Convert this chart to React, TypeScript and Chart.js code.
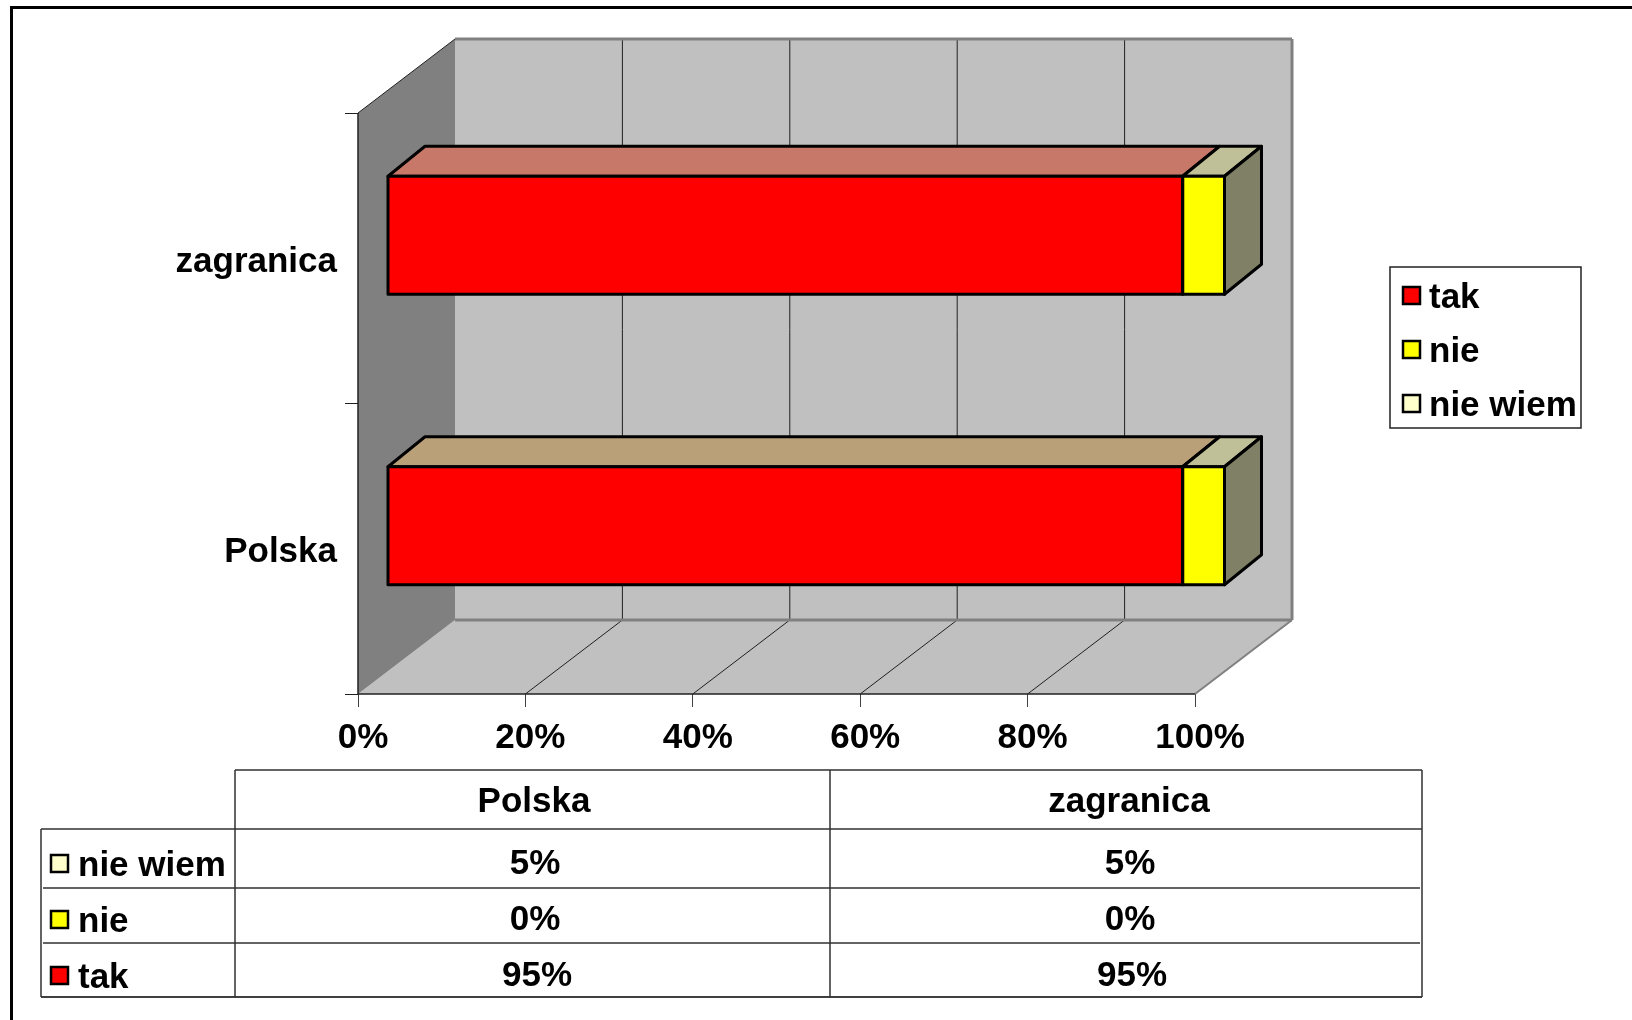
import React, { useEffect, useRef } from "react";
import { Chart, registerables } from "chart.js";

Chart.register(...registerables);

const categories = ["Polska", "zagranica"];
const seriesNames = ["tak", "nie", "nie wiem"];
const takValues = [95, 95];
const nieValues = [0, 0];
const nieWiemValues = [5, 5];
const xTicks = [0, 20, 40, 60, 80, 100];

const FONT = "bold 35px 'Liberation Sans', Arial, sans-serif";
const depthFull = { x: 97, y: -74 };
const barShift = { x: 29.5, y: -23 };
const barDepth = { x: 37, y: -30 };

const legendSwatches = ["#FF0000", "#FFFF00", "#FFFFCC"];
const frontColors = ["#FF0000", "#FFFF00", "#FFFF00"];
const topColors = [
  ["#B9A078", "#C87868"],
  ["#C0C098", "#C0C098"],
  ["#C0C098", "#C0C098"],
];
const sideColor = "#808066";

function poly(ctx: CanvasRenderingContext2D, pts: number[][], fill?: string, stroke?: string, lw = 1) {
  ctx.beginPath();
  pts.forEach((p, i) => (i ? ctx.lineTo(p[0], p[1]) : ctx.moveTo(p[0], p[1])));
  ctx.closePath();
  if (fill) {
    ctx.fillStyle = fill;
    ctx.fill();
  }
  if (stroke) {
    ctx.strokeStyle = stroke;
    ctx.lineWidth = lw;
    ctx.lineJoin = "round";
    ctx.stroke();
  }
}

function line(ctx: CanvasRenderingContext2D, x1: number, y1: number, x2: number, y2: number, color: string, lw: number) {
  ctx.beginPath();
  ctx.moveTo(x1, y1);
  ctx.lineTo(x2, y2);
  ctx.strokeStyle = color;
  ctx.lineWidth = lw;
  ctx.stroke();
}

function barBoxes(chart: any) {
  const out: any[] = [];
  chart.data.datasets.forEach((_: any, d: number) => {
    chart.getDatasetMeta(d).data.forEach((el: any, i: number) => {
      const p = el.getProps(["x", "y", "base", "height"], true);
      if (Math.abs(p.x - p.base) < 0.5) return;
      out.push({ d, i, x0: p.base, x1: p.x, top: p.y - p.height / 2, bottom: p.y + p.height / 2 });
    });
  });
  return out;
}

const scene3d = {
  id: "scene3d",
  beforeDatasetsDraw(chart: any) {
    const { ctx, chartArea: a, scales } = chart;
    const { x: dx, y: dy } = depthFull;
    ctx.save();
    // frame of the picture
    line(ctx, 11.5, 7.5, 1632, 7.5, "#000000", 3);
    line(ctx, 11.5, 6, 11.5, 1020, "#000000", 3);
    // floor
    poly(ctx, [[a.left, a.bottom], [a.right, a.bottom], [a.right + dx, a.bottom + dy], [a.left + dx, a.bottom + dy]], "#C0C0C0");
    // back wall
    poly(ctx, [[a.left + dx, a.top + dy], [a.right + dx, a.top + dy], [a.right + dx, a.bottom + dy], [a.left + dx, a.bottom + dy]], "#C0C0C0");
    // side wall
    poly(ctx, [[a.left, a.top], [a.left + dx, a.top + dy], [a.left + dx, a.bottom + dy], [a.left, a.bottom]], "#808080");
    // grid lines
    xTicks.forEach((t, idx) => {
      const px = scales.x.getPixelForValue(t);
      if (idx > 0 && idx < xTicks.length - 1) {
        line(ctx, px + dx, a.top + dy, px + dx, a.bottom + dy, "#202020", 1);
        line(ctx, px, a.bottom, px + dx, a.bottom + dy, "#202020", 1);
      }
    });
    // wall edges
    line(ctx, a.left + dx, a.top + dy, a.right + dx, a.top + dy, "#808080", 3);
    line(ctx, a.right + dx, a.top + dy, a.right + dx, a.bottom + dy, "#808080", 3);
    line(ctx, a.left + dx, a.bottom + dy, a.right + dx, a.bottom + dy, "#808080", 3);
    line(ctx, a.right, a.bottom, a.right + dx, a.bottom + dy, "#808080", 2);
    line(ctx, a.left, a.top, a.left + dx, a.top + dy, "#202020", 1);
    line(ctx, a.left, a.top, a.left, a.bottom, "#202020", 1.5);
    line(ctx, a.left, a.bottom, a.right, a.bottom, "#202020", 1.5);

    // the parts of the bars seen in depth
    const bx = barShift.x;
    const by = barShift.y;
    const { x: ex, y: ey } = barDepth;
    barBoxes(chart).forEach((b) => {
      poly(ctx, [[b.x0 + bx, b.top + by], [b.x1 + bx, b.top + by], [b.x1 + bx + ex, b.top + by + ey], [b.x0 + bx + ex, b.top + by + ey]], topColors[b.d][b.i], "#000000", 3);
      if (b.d === chart.data.datasets.length - 1) {
        poly(ctx, [[b.x1 + bx, b.top + by], [b.x1 + bx + ex, b.top + by + ey], [b.x1 + bx + ex, b.bottom + by + ey], [b.x1 + bx, b.bottom + by]], sideColor, "#000000", 3);
      }
    });
    ctx.restore();
    ctx.save();
    ctx.translate(bx, by);
  },
  afterDatasetsDraw(chart: any) {
    const { ctx } = chart;
    barBoxes(chart).forEach((b) => {
      poly(ctx, [[b.x0, b.top], [b.x1, b.top], [b.x1, b.bottom], [b.x0, b.bottom]], undefined, "#000000", 3);
    });
    ctx.restore();
  },
};

function swatch(ctx: CanvasRenderingContext2D, x: number, cy: number, color: string) {
  ctx.fillStyle = color;
  ctx.fillRect(x, cy - 8, 17, 17);
  ctx.strokeStyle = "#000000";
  ctx.lineWidth = 2.5;
  ctx.strokeRect(x, cy - 8, 17, 17);
}

const legendAndTable = {
  id: "legendAndTable",
  afterDraw(chart: any) {
    const { ctx } = chart;
    ctx.save();
    ctx.font = FONT;
    ctx.textBaseline = "middle";

    // legend
    ctx.strokeStyle = "#222222";
    ctx.lineWidth = 1.5;
    ctx.strokeRect(1390, 267, 191, 161);
    const legendY = [295, 349, 403];
    seriesNames.forEach((name, i) => {
      swatch(ctx, 1403, legendY[i], legendSwatches[i]);
      ctx.fillStyle = "#000000";
      ctx.textAlign = "left";
      ctx.fillText(name, 1429, legendY[i] + 3);
    });

    // data table
    const xs = [41, 235, 830, 1422];
    const ys = [770, 829, 888, 943, 997];
    const c = "#303030";
    line(ctx, xs[1], ys[0], xs[3], ys[0], c, 1.5);
    line(ctx, xs[0], ys[1], xs[3], ys[1], c, 1.5);
    line(ctx, xs[0] + 2, ys[2], xs[3] - 2, ys[2], c, 1.5);
    line(ctx, xs[0] + 2, ys[3], xs[3] - 2, ys[3], c, 1.5);
    line(ctx, xs[0], ys[4], xs[3], ys[4], "#000000", 1.5);
    line(ctx, xs[0], ys[1], xs[0], ys[4], c, 1.5);
    line(ctx, xs[1], ys[0], xs[1], ys[4], c, 1.5);
    line(ctx, xs[2], ys[0], xs[2], ys[4], c, 1.5);
    line(ctx, xs[3], ys[0], xs[3], ys[4], c, 1.5);

    ctx.fillStyle = "#000000";
    ctx.textAlign = "center";
    const colX = [534, 1129];
    categories.forEach((cat, i) => ctx.fillText(cat, colX[i], 802));

    const rows = [
      { name: seriesNames[2], values: nieWiemValues, color: legendSwatches[2], y: 864, sy: 863, dx: 1 },
      { name: seriesNames[1], values: nieValues, color: legendSwatches[1], y: 920, sy: 919, dx: 1 },
      { name: seriesNames[0], values: takValues, color: legendSwatches[0], y: 976, sy: 975, dx: 3 },
    ];
    rows.forEach((r) => {
      swatch(ctx, 51, r.sy, r.color);
      ctx.fillStyle = "#000000";
      ctx.textAlign = "left";
      ctx.fillText(r.name, 78, r.sy + 3);
      ctx.textAlign = "center";
      r.values.forEach((v, i) => ctx.fillText(`${v}%`, colX[i] + r.dx, r.y));
    });
    ctx.restore();
  },
};

export default function App() {
  const ref = useRef<HTMLCanvasElement>(null);
  useEffect(() => {
    document.body.style.margin = "0";
    const font = { family: "'Liberation Sans', Arial, sans-serif", size: 35, weight: "bold" as const };
    const common = { stack: "s", clip: false as const, borderWidth: 0, barThickness: 118 };
    const chart = new Chart(ref.current!, {
      type: "bar",
      data: {
        labels: categories,
        datasets: [
          { ...common, label: seriesNames[0], data: takValues, backgroundColor: frontColors[0] },
          { ...common, label: seriesNames[1], data: nieValues, backgroundColor: frontColors[1] },
          { ...common, label: seriesNames[2], data: nieWiemValues, backgroundColor: frontColors[2] },
        ],
      },
      plugins: [scene3d, legendAndTable],
      options: {
        indexAxis: "y",
        responsive: false,
        animation: false,
        maintainAspectRatio: false,
        layout: { padding: { left: 0, top: 113, right: 437, bottom: 0 } },
        plugins: { legend: { display: false }, tooltip: { enabled: false } },
        scales: {
          x: {
            type: "linear",
            stacked: true,
            min: 0,
            max: 100,
            afterFit: (s: any) => { s.height = 326; },
            afterBuildTicks: (s: any) => { s.ticks = xTicks.map((value) => ({ value })); },
            grid: { drawOnChartArea: false, tickLength: 13, tickColor: "#404040", tickWidth: 1 },
            border: { display: false },
            ticks: {
              color: "#000000",
              font,
              padding: 10,
              labelOffset: 5,
              maxRotation: 0,
              autoSkip: false,
              callback: (v: any) => `${v}%`,
            },
          },
          y: {
            type: "category",
            stacked: true,
            reverse: true,
            offset: true,
            afterFit: (s: any) => { s.width = 358; },
            grid: { offset: true, drawOnChartArea: false, tickLength: 13, tickColor: "#202020", tickWidth: 1 },
            border: { display: false },
            ticks: { color: "#000000", font, padding: 8, labelOffset: 4 },
          },
        },
      },
    });
    return () => chart.destroy();
  }, []);
  return (
    <div style={{ position: "absolute", left: 0, top: 0, width: 1632, height: 1020, overflow: "hidden", background: "#FFFFFF" }}>
      <canvas ref={ref} width={1632} height={1020} style={{ display: "block" }} />
    </div>
  );
}
